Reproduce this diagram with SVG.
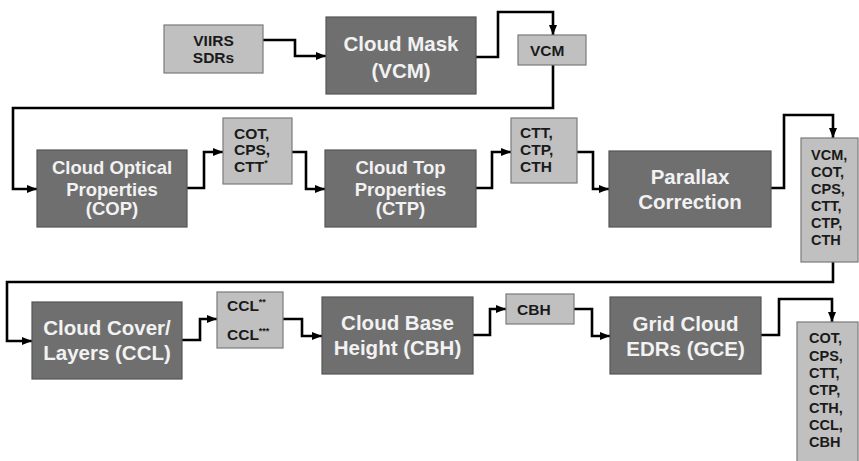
<svg xmlns="http://www.w3.org/2000/svg" width="859" height="461" viewBox="0 0 859 461">
<style>
.dark{fill:#6f6f6f;stroke:#555;stroke-width:1.2}
.light{fill:#c0c0c0;stroke:#7a7a7a;stroke-width:1.2}
.dt{font-family:"Liberation Sans",Arial,sans-serif;font-weight:bold;fill:#f2f2f2;text-anchor:middle;font-size:20.5px}
.dt2{font-size:18.5px}
.lt{font-family:"Liberation Sans",Arial,sans-serif;font-weight:bold;fill:#1a1a1a;font-size:15.5px}
.ls{font-size:14.5px}
.sup{font-size:9px}
.c{fill:none;stroke:#000;stroke-width:2.6;stroke-linejoin:miter;marker-end:url(#ah)}
</style>
<defs>
<marker id="ah" markerUnits="userSpaceOnUse" markerWidth="10" markerHeight="10" viewBox="0 0 10 10" refX="10" refY="5" orient="auto">
<path d="M0,1 L10,5 L0,9 Z" fill="#000"/>
</marker>
</defs>
<rect width="859" height="461" fill="#fff"/>
<g id="connectors">
<polyline class="c" points="263,40 295,40 295,56 326,56"/>
<polyline class="c" points="476,57 498,57 498,12 553,12 553,35"/>
<polyline class="c" points="553,65 553,108 13,108 13,189 37,189"/>
<polyline class="c" points="187,188 204,188 204,152 223,152"/>
<polyline class="c" points="292,152 306,152 306,189 325,189"/>
<polyline class="c" points="476,188 492,188 492,152 511,152"/>
<polyline class="c" points="577,152 593,152 593,189 609,189"/>
<polyline class="c" points="771,188 784,188 784,115 833,115 833,138"/>
<polyline class="c" points="833,262 833,282 7,282 7,341 32,341"/>
<polyline class="c" points="182,340 200,340 200,319 217,319"/>
<polyline class="c" points="283,319 302,319 302,336 322,336"/>
<polyline class="c" points="473,335 490,335 490,309 506,309"/>
<polyline class="c" points="574,309 592,309 592,336 610,336"/>
<polyline class="c" points="761,335 779,335 779,299 832,299 832,322"/>
</g>
<g id="viirs">
<rect class="light" x="164" y="25" width="99" height="48"/>
<text class="lt" x="213.5" y="45.5" text-anchor="middle">VIIRS</text>
<text class="lt" x="213.5" y="62.5" text-anchor="middle">SDRs</text>
</g>
<g id="cloudmask">
<rect class="dark" x="326" y="17" width="150" height="77"/>
<text class="dt" x="401" y="51">Cloud Mask</text>
<text class="dt" x="401" y="78">(VCM)</text>
</g>
<g id="vcm">
<rect class="light" x="518" y="35" width="68" height="30"/>
<text class="lt" x="530" y="56">VCM</text>
</g>
<g id="cop">
<rect class="dark" x="37" y="150" width="150" height="77"/>
<text class="dt dt2" x="112" y="174">Cloud Optical</text>
<text class="dt dt2" x="112" y="196">Properties</text>
<text class="dt dt2" x="112" y="215">(COP)</text>
</g>
<g id="cop-out">
<rect class="light" x="223" y="118" width="69" height="66"/>
<text class="lt" x="234" y="138.5">COT,</text>
<text class="lt" x="234" y="155">CPS,</text>
<text class="lt" x="234" y="171.5">CTT<tspan class="sup" dy="-6">*</tspan></text>
</g>
<g id="ctp">
<rect class="dark" x="325" y="150" width="151" height="77"/>
<text class="dt dt2" x="400.5" y="174">Cloud Top</text>
<text class="dt dt2" x="400.5" y="196">Properties</text>
<text class="dt dt2" x="400.5" y="215">(CTP)</text>
</g>
<g id="ctp-out">
<rect class="light" x="511" y="118" width="66" height="65"/>
<text class="lt" x="520" y="138">CTT,</text>
<text class="lt" x="520" y="155">CTP,</text>
<text class="lt" x="520" y="172">CTH</text>
</g>
<g id="parallax">
<rect class="dark" x="609" y="151" width="162" height="76"/>
<text class="dt" x="690" y="183.5">Parallax</text>
<text class="dt" x="690" y="208.5">Correction</text>
</g>
<g id="parallax-out">
<rect class="light" x="801" y="138" width="57" height="124"/>
<text class="lt ls" x="811" y="160">VCM,</text>
<text class="lt ls" x="811" y="177">COT,</text>
<text class="lt ls" x="811" y="194">CPS,</text>
<text class="lt ls" x="811" y="211">CTT,</text>
<text class="lt ls" x="811" y="228">CTP,</text>
<text class="lt ls" x="811" y="245">CTH</text>
</g>
<g id="ccl">
<rect class="dark" x="32" y="302" width="150" height="77"/>
<text class="dt" x="107" y="335">Cloud Cover/</text>
<text class="dt" x="107" y="360">Layers (CCL)</text>
</g>
<g id="ccl-out">
<rect class="light" x="217" y="292" width="66" height="56"/>
<text class="lt" x="227" y="311">CCL<tspan class="sup" dy="-6">**</tspan></text>
<text class="lt" x="227" y="340">CCL<tspan class="sup" dy="-6">***</tspan></text>
</g>
<g id="cbh">
<rect class="dark" x="322" y="297" width="151" height="77"/>
<text class="dt" x="397.5" y="330">Cloud Base</text>
<text class="dt" x="397.5" y="355">Height (CBH)</text>
</g>
<g id="cbh-out">
<rect class="light" x="506" y="294" width="68" height="30"/>
<text class="lt" x="517" y="315">CBH</text>
</g>
<g id="gce">
<rect class="dark" x="610" y="297" width="151" height="77"/>
<text class="dt" x="685.5" y="331">Grid Cloud</text>
<text class="dt" x="685.5" y="356">EDRs (GCE)</text>
</g>
<g id="gce-out">
<rect class="light" x="797" y="322" width="61" height="145"/>
<text class="lt ls" x="809" y="343">COT,</text>
<text class="lt ls" x="809" y="360.5">CPS,</text>
<text class="lt ls" x="809" y="378">CTT,</text>
<text class="lt ls" x="809" y="395">CTP,</text>
<text class="lt ls" x="809" y="412.5">CTH,</text>
<text class="lt ls" x="809" y="430">CCL,</text>
<text class="lt ls" x="809" y="447">CBH</text>
</g>
</svg>
